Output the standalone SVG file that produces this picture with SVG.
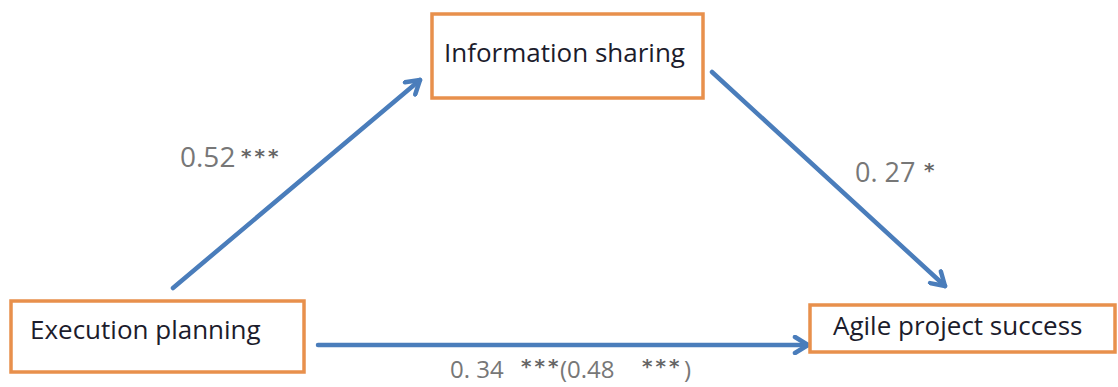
<svg xmlns="http://www.w3.org/2000/svg" width="1118" height="387" viewBox="0 0 1118 387">
<style>
.box{fill:#fff;stroke:#e8904c;stroke-width:3.5}
.nt{font-family:"Open Sans","DejaVu Sans",sans-serif;font-size:26px;fill:#1c1c2c}
.lb{font-family:"Open Sans","DejaVu Sans",sans-serif;fill:#777}
.st{font-family:"DejaVu Sans",sans-serif;font-size:20px;font-weight:bold;fill:#666;letter-spacing:3px}
.cn{stroke:#4a7dbb;stroke-width:4.5;fill:none;stroke-linecap:round}
</style>
<defs>
<marker id="ah" viewBox="0 0 20 20" refX="16" refY="10" markerWidth="20" markerHeight="20" markerUnits="userSpaceOnUse" orient="auto">
<path d="M3,2 L16,10 L3,18" fill="none" stroke="#4a7dbb" stroke-width="4.5" stroke-linecap="round" stroke-linejoin="round"/>
</marker>
</defs>
<rect width="1118" height="387" fill="#fff"/>
<g id="connectors">
<line class="cn" x1="173" y1="288" x2="420" y2="80" marker-end="url(#ah)"/>
<line class="cn" x1="712" y1="72" x2="945" y2="286" marker-end="url(#ah)"/>
<line class="cn" x1="318" y1="345" x2="808" y2="345" marker-end="url(#ah)"/>
</g>
<g id="information-sharing">
<rect class="box" x="432" y="14" width="271" height="84"/>
<text class="nt" x="444" y="62">Information sharing</text>
</g>
<g id="execution-planning">
<rect class="box" x="11" y="301" width="293" height="71"/>
<text class="nt" x="30" y="339">Execution planning</text>
</g>
<g id="agile-project-success">
<rect class="box" x="810" y="305" width="305" height="47"/>
<text class="nt" x="833" y="335">Agile project success</text>
</g>
<g id="labels">
<text class="lb" x="180" y="167" font-size="28">0.52 <tspan class="st" x="241" y="163">***</tspan></text>
<text class="lb" x="855" y="182" font-size="27">0. 27 <tspan class="st" x="924" y="177">*</tspan></text>
<text class="lb" x="450" y="378" font-size="24">0. 34 <tspan class="st" x="521" y="373">***</tspan><tspan x="560" y="378">(0.48</tspan><tspan class="st" x="642" y="373">***</tspan><tspan x="684" y="378">)</tspan></text>
</g>
</svg>
